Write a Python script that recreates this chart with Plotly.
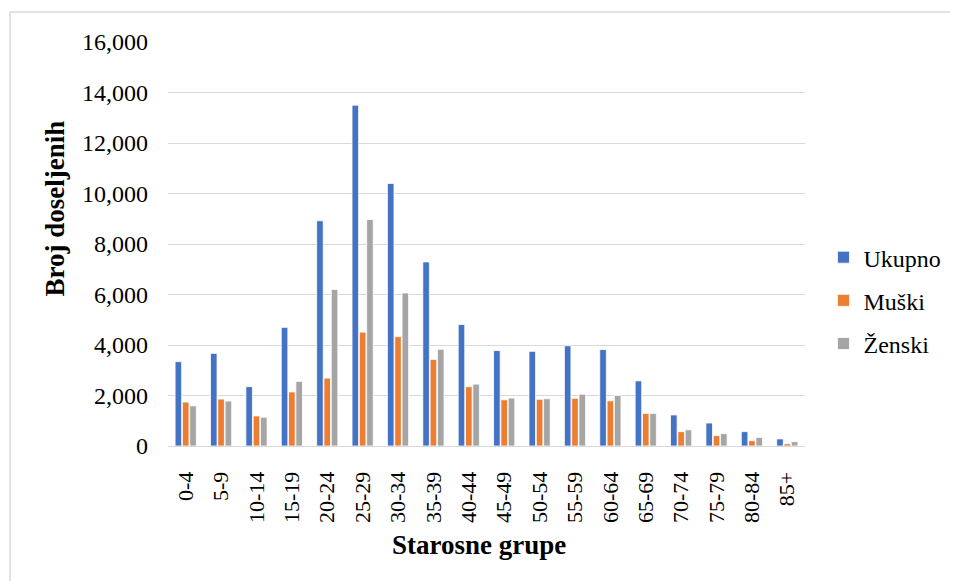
import plotly.graph_objects as go

# Age groups and counts
groups = ["0-4", "5-9", "10-14", "15-19", "20-24", "25-29", "30-34", "35-39",
          "40-44", "45-49", "50-54", "55-59", "60-64", "65-69", "70-74",
          "75-79", "80-84", "85+"]
ukupno = [3340, 3670, 2350, 4700, 8920, 13500, 10400, 7290, 4810,
          3780, 3750, 3970, 3820, 2580, 1230, 910, 570, 280]
muski = [1740, 1860, 1190, 2140, 2690, 4510, 4330, 3430, 2350,
         1830, 1850, 1890, 1790, 1290, 570, 410, 210, 90]
zenski = [1590, 1780, 1140, 2560, 6200, 8970, 6060, 3830, 2450,
          1900, 1870, 2050, 2000, 1290, 640, 490, 340, 170]

series = [("Ukupno", ukupno, "#4472C4"),
          ("Muški", muski, "#ED7D31"),
          ("Ženski", zenski, "#A5A5A5")]

FONT = "Liberation Serif"

fig = go.Figure()
for name, vals, color in series:
    fig.add_trace(go.Bar(
        x=groups, y=vals, name=name, legendgroup=name,
        marker=dict(color=color, line=dict(color="white", width=0.8)),
    ))

# page body has an 8px margin, so the figure is a bit smaller than the window
fig.update_layout(
    width=950, height=573,
    margin=dict(l=160, r=150, t=34, b=135),
    paper_bgcolor="white", plot_bgcolor="white",
    font=dict(family=FONT, size=22, color="black"),
    barmode="group", bargap=0.38, bargroupgap=0.1,
    legend=dict(x=1.029, y=0.36, xanchor="left", yanchor="middle",
                font=dict(size=24), tracegroupgap=9, itemwidth=30),
    xaxis=dict(tickangle=-90, showgrid=False, showline=True,
               linecolor="#d9d9d9", linewidth=1, ticks="",
               ticklabelstandoff=16, tickfont=dict(size=22)),
    yaxis=dict(range=[0, 16000], dtick=2000, tickformat=",d",
               showgrid=True, gridcolor="#d9d9d9", gridwidth=1,
               zeroline=False, ticks="", ticklabelstandoff=19,
               tickfont=dict(size=24)),
)

# Axis titles placed like the original
fig.add_annotation(text="<b>Broj doseljenih</b>", textangle=-90,
                   xref="paper", yref="paper", x=-0.178, y=0.587,
                   xanchor="center", yanchor="middle",
                   showarrow=False, font=dict(size=27))
fig.add_annotation(text="<b>Starosne grupe</b>",
                   xref="paper", yref="paper", x=0.4875, y=-0.245,
                   xanchor="center", yanchor="middle",
                   showarrow=False, font=dict(size=27))

# Chart area border (top and left edges visible)
fig.add_shape(type="line", xref="paper", yref="paper",
              x0=-0.248, x1=1.3, y0=1.074, y1=1.074,
              line=dict(color="#d9d9d9", width=1.5))
fig.add_shape(type="line", xref="paper", yref="paper",
              x0=-0.248, x1=-0.248, y0=1.074, y1=-0.4,
              line=dict(color="#d9d9d9", width=1.5))

fig.write_html("out.html")
